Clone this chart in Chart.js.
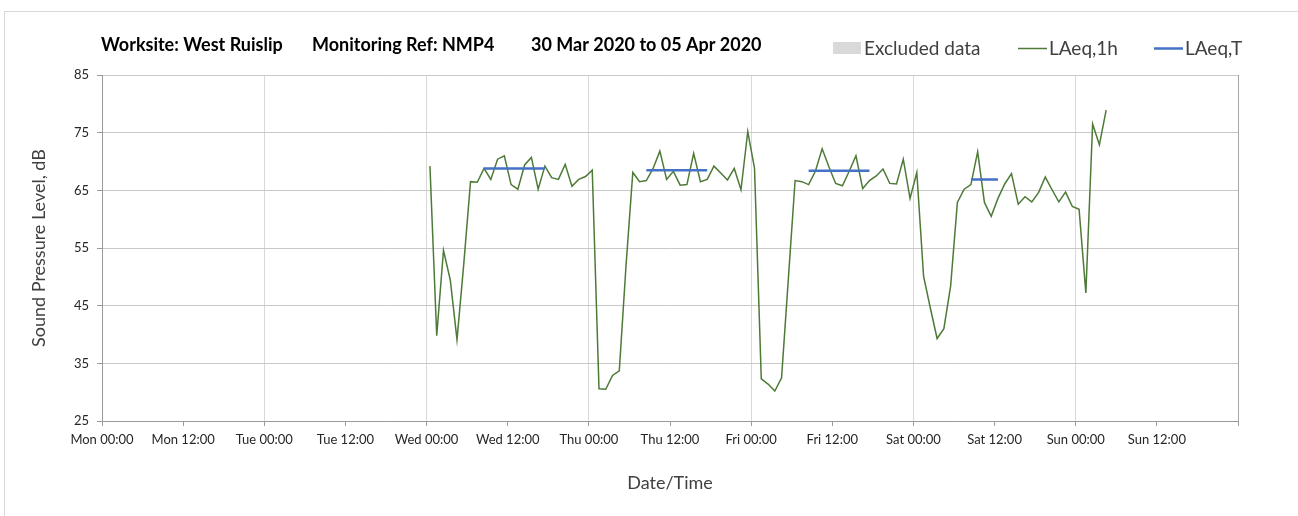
<!DOCTYPE html>
<html>
<head>
<meta charset="utf-8">
<title>West Ruislip NMP4</title>
<script src="https://cdn.jsdelivr.net/npm/chart.js@4.4.1/dist/chart.umd.min.js"></script>
<style>
    html, body { margin: 0; padding: 0; background: #fff; }
    #frame {
        position: absolute; left: 4px; top: 11px; right: 0; bottom: 0;
        border-left: 1px solid #d9d9d9; border-top: 1px solid #d9d9d9;
    }
    #noiseChart { position: absolute; left: 0; top: 0; }
</style>
</head>
<body>
<div id="frame"></div>
<canvas id="noiseChart" width="1298" height="516"></canvas>
<script>
/**
 * Noise monitoring - weekly LAeq chart (West Ruislip, NMP4)
 */

// x axis runs in hours from Mon 00:00
const xTickLabels = [
    'Mon 00:00', 'Mon 12:00', 'Tue 00:00', 'Tue 12:00', 'Wed 00:00', 'Wed 12:00',
    'Thu 00:00', 'Thu 12:00', 'Fri 00:00', 'Fri 12:00', 'Sat 00:00', 'Sat 12:00',
    'Sun 00:00', 'Sun 12:00', ''
];

// hourly LAeq,1h values, first one at Wed 00:30
const hourlyStart = 48.5;
const laeq1h = [
    69.2, 39.8, 54.6, 49.5, 39.1, 52.2, 66.5, 66.4, 68.8, 66.9,
    70.4, 71.0, 66.0, 65.2, 69.4, 70.7, 65.2, 69.2, 67.2, 66.9,
    69.5, 65.7, 66.9, 67.4, 68.5, 30.6, 30.5, 32.9, 33.7, 52.0,
    68.1, 66.5, 66.7, 68.8, 71.8, 66.9, 68.3, 65.9, 66.0, 71.4,
    66.5, 66.9, 69.2, 68.0, 66.8, 68.8, 65.1, 75.2, 68.8, 32.3,
    31.4, 30.2, 32.5, 49.6, 66.7, 66.5, 66.0, 68.3, 72.2, 69.1,
    66.2, 65.8, 68.3, 71.0, 65.3, 66.7, 67.5, 68.7, 66.2, 66.1,
    70.4, 63.6, 68.1, 50.1, 44.6, 39.3, 41.0, 48.4, 62.9, 65.2,
    66.0, 71.7, 62.9, 60.5, 63.6, 66.1, 67.9, 62.6, 63.9, 63.0,
    64.6, 67.3, 65.1, 63.0, 64.7, 62.2, 61.7, 47.2, 76.5, 72.9,
    78.9
];

// LAeq,T working-period levels
const periodStart = [56.5, 80.5, 104.5, 128.5];
const periodEnd = [65.5, 89.5, 113.5, 132.5];
const laeqT = [68.8, 68.5, 68.4, 66.9];

const yMin = 25;
const yMax = 85;
const yStep = 10;

const headerParts = ['Worksite: West Ruislip', 'Monitoring Ref: NMP4', '30 Mar 2020 to 05 Apr 2020'];
const legendItems = [
    { label: 'Excluded data', color: '#d9d9d9', kind: 'box' },
    { label: 'LAeq,1h', color: '#4e7a38', kind: 'line', width: 1.5 },
    { label: 'LAeq,T', color: '#4472c4', kind: 'line', width: 2.5 }
];

const FONT = 'Lato, "Open Sans", sans-serif';

// build point lists for the library
const hourlyPoints = laeq1h.map((v, i) => ({ x: hourlyStart + i, y: v }));
const periodPoints = [];
laeqT.forEach((v, i) => {
    periodPoints.push({ x: periodStart[i], y: v });
    periodPoints.push({ x: periodEnd[i], y: v });
    periodPoints.push({ x: periodEnd[i], y: null }); // break between periods
});

/**
 * Draws the header line (title + legend) above the plot
 */
const headerRow = {
    id: 'headerRow',
    afterDraw(chart) {
        const ctx = chart.ctx;
        ctx.save();

        // title pieces
        ctx.font = `bold 18px ${FONT}`;
        ctx.fillStyle = '#000';
        ctx.textBaseline = 'alphabetic';
        const titleX = [101, 312, 531];
        headerParts.forEach((t, i) => ctx.fillText(t, titleX[i], 51));

        // legend entries
        const legendX = [833, 1018, 1154];
        ctx.font = `19px ${FONT}`;
        legendItems.forEach((item, i) => {
            const x = legendX[i];
            if (item.kind === 'box') {
                ctx.fillStyle = item.color;
                ctx.fillRect(x, 42, 28, 12);
            } else {
                ctx.strokeStyle = item.color;
                ctx.lineWidth = item.width;
                ctx.beginPath();
                ctx.moveTo(x, 48.5);
                ctx.lineTo(x + 29, 48.5);
                ctx.stroke();
            }
            ctx.fillStyle = '#404040';
            ctx.fillText(item.label, x + 31, 55);
        });
        ctx.restore();
    }
};

const ctx = document.getElementById('noiseChart');

new Chart(ctx, {
    type: 'line',
    data: {
        datasets: [
            {
                label: 'LAeq,1h',
                data: hourlyPoints,
                borderColor: '#4e7a38',
                borderWidth: 1.5,
                pointRadius: 0,
                tension: 0,
                order: 2
            },
            {
                label: 'LAeq,T',
                data: periodPoints,
                borderColor: '#4472c4',
                borderWidth: 2.5,
                pointRadius: 0,
                spanGaps: false,
                order: 1
            }
        ]
    },
    options: {
        responsive: false,
        animation: false,
        layout: {
            padding: { top: 75, left: 28, right: 60, bottom: 22 }
        },
        plugins: {
            legend: { display: false },
            tooltip: { enabled: false }
        },
        scales: {
            x: {
                type: 'linear',
                min: 0,
                max: 168,
                afterFit: (scale) => { scale.height = 73; },
                border: { color: '#9a9a9a', width: 1 },
                grid: {
                    // day gridlines only; 12:00 just gets a tick mark
                    color: (c) => {
                        if (c.tick.value === 168) return '#a6a6a6';
                        return c.tick.value % 24 === 0 ? '#d9d9d9' : 'rgba(0,0,0,0)';
                    },
                    tickColor: '#9a9a9a',
                    tickLength: 5
                },
                ticks: {
                    stepSize: 12,
                    autoSkip: false,
                    maxRotation: 0,
                    padding: 6,
                    color: '#262626',
                    font: { family: FONT, size: 13 },
                    callback: (v) => xTickLabels[v / 12]
                },
                title: {
                    display: true,
                    text: 'Date/Time',
                    color: '#404040',
                    padding: { top: 0, bottom: 0 },
                    font: { family: FONT, size: 18 }
                }
            },
            y: {
                min: yMin,
                max: yMax,
                afterFit: (scale) => { scale.width = 74; },
                border: { color: '#9a9a9a', width: 1 },
                grid: {
                    color: '#c8c8c8',
                    tickColor: '#9a9a9a',
                    tickLength: 5
                },
                ticks: {
                    stepSize: yStep,
                    padding: 8,
                    color: '#262626',
                    font: { family: FONT, size: 13 }
                },
                title: {
                    display: true,
                    text: 'Sound Pressure Level, dB',
                    color: '#404040',
                    padding: { top: 0, bottom: 0 },
                    font: { family: FONT, size: 18 }
                }
            }
        }
    },
    plugins: [headerRow]
});
</script>
</body>
</html>
